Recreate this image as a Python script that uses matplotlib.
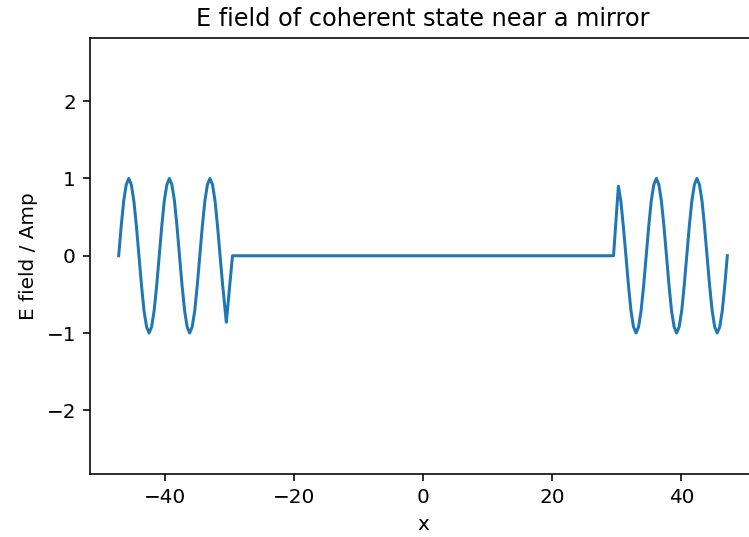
import matplotlib
matplotlib.use("Agg")
import matplotlib.pyplot as plt

# Field samples (left wave, mirror region, right wave)
x_left = [-47.12, -46.73, -46.34, -45.95, -45.55, -45.16, -44.77, -44.37,
          -43.98, -43.59, -43.20, -42.80, -42.41, -42.02, -41.63, -41.23,
          -40.84, -40.45, -40.06, -39.66, -39.27, -38.88, -38.48, -38.09,
          -37.70, -37.31, -36.91, -36.52, -36.13, -35.74, -35.34, -34.95,
          -34.56, -34.17, -33.77, -33.38, -32.99, -32.59, -32.20, -31.81,
          -31.42, -31.02, -30.63, -30.45]
E_left = [0.00, 0.38, 0.71, 0.92, 1.00, 0.92, 0.71, 0.38,
          0.00, -0.38, -0.71, -0.92, -1.00, -0.92, -0.71, -0.38,
          0.00, 0.38, 0.71, 0.92, 1.00, 0.92, 0.71, 0.38,
          0.00, -0.38, -0.71, -0.92, -1.00, -0.92, -0.71, -0.38,
          0.00, 0.38, 0.71, 0.92, 1.00, 0.92, 0.71, 0.38,
          0.00, -0.38, -0.71, -0.86]

x_mirror = [-29.50, 29.50]
E_mirror = [0.00, 0.00]

x_right = [30.25, 30.63, 31.02, 31.42, 31.81, 32.20, 32.59, 32.99, 33.38,
           33.77, 34.17, 34.56, 34.95, 35.34, 35.74, 36.13, 36.52, 36.91,
           37.31, 37.70, 38.09, 38.48, 38.88, 39.27, 39.66, 40.06, 40.45,
           40.84, 41.23, 41.63, 42.02, 42.41, 42.80, 43.20, 43.59, 43.98,
           44.37, 44.77, 45.16, 45.55, 45.95, 46.34, 46.73, 47.12]
E_right = [0.90, 0.71, 0.38, 0.00, -0.38, -0.71, -0.92, -1.00, -0.92,
           -0.71, -0.38, 0.00, 0.38, 0.71, 0.92, 1.00, 0.92, 0.71,
           0.38, 0.00, -0.38, -0.71, -0.92, -1.00, -0.92, -0.71, -0.38,
           0.00, 0.38, 0.71, 0.92, 1.00, 0.92, 0.71, 0.38, 0.00,
           -0.38, -0.71, -0.92, -1.00, -0.92, -0.71, -0.38, 0.00]

x_all = x_left + x_mirror + x_right
E_all = E_left + E_mirror + E_right

fig = plt.figure(figsize=(749 / 144, 537 / 144), dpi=144)
ax = fig.add_axes([90 / 749, (537 - 473.7) / 537, (756 - 90) / 749, (473.7 - 37.8) / 537])
ax.plot(x_all, E_all, color="#1f77b4", linewidth=1.5)
ax.set_xlim(-51.56, 51.56)
ax.set_ylim(-2.82, 2.82)
ax.set_xticks([-40, -20, 0, 20, 40])
ax.set_yticks([-2, -1, 0, 1, 2])
ax.set_title("E field of coherent state near a mirror")
ax.set_xlabel("x")
ax.set_ylabel("E field / Amp")

fig.savefig("out.png", dpi=144)
